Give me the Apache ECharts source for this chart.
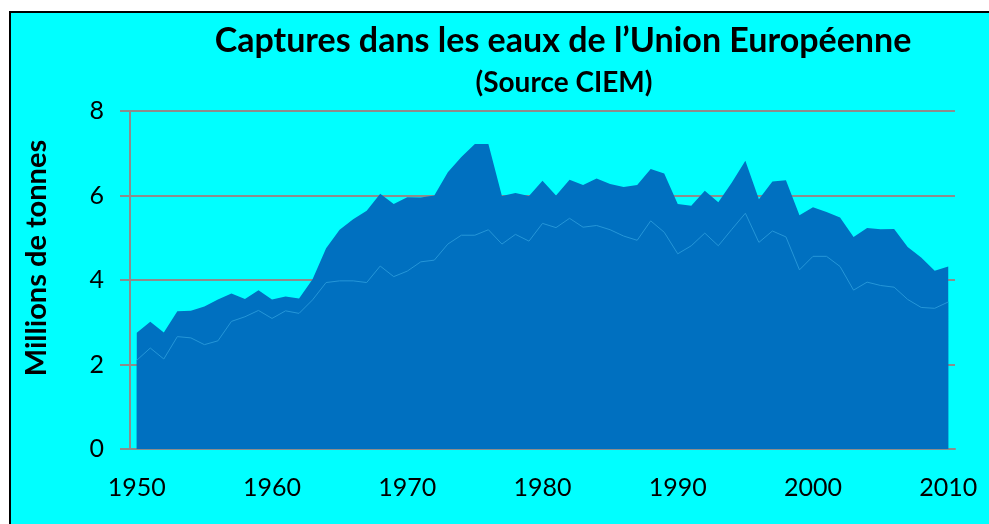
<!DOCTYPE html>
<html>
<head>
<meta charset="utf-8">
<script src="https://cdn.jsdelivr.net/npm/echarts@6/dist/echarts.min.js"></script>
<style>
  html, body { margin: 0; padding: 0; background: #fff; }
  #main { width: 989px; height: 524px; }
</style>
</head>
<body>
<div id="main"></div>
<script>
// années 1950 - 2010
var years = []
for (var y = 1950; y <= 2010; y++) years.push(String(y))

// captures totales (millions de tonnes)
var totalCaptures = [
  2.75, 3.01, 2.76, 3.26, 3.27, 3.37, 3.54, 3.68, 3.55, 3.76,
  3.54, 3.61, 3.56, 4.02, 4.75, 5.19, 5.44, 5.64, 6.04, 5.80,
  5.96, 5.95, 6.00, 6.55, 6.91, 7.22, 7.22, 5.99, 6.06, 5.99,
  6.35, 6.00, 6.37, 6.25, 6.40, 6.27, 6.20, 6.25, 6.63, 6.52,
  5.80, 5.76, 6.11, 5.84, 6.31, 6.82, 5.91, 6.33, 6.36, 5.53,
  5.72, 5.61, 5.48, 5.02, 5.23, 5.20, 5.21, 4.78, 4.53, 4.22,
  4.32
]

// part inférieure (ligne claire)
var partCaptures = [
  2.10, 2.39, 2.13, 2.66, 2.63, 2.47, 2.56, 3.02, 3.13, 3.28,
  3.09, 3.27, 3.21, 3.53, 3.94, 3.98, 3.98, 3.94, 4.33, 4.08,
  4.21, 4.43, 4.47, 4.85, 5.06, 5.06, 5.19, 4.85, 5.08, 4.92,
  5.34, 5.24, 5.46, 5.25, 5.29, 5.19, 5.04, 4.94, 5.40, 5.13,
  4.62, 4.81, 5.11, 4.81, 5.20, 5.58, 4.89, 5.16, 5.02, 4.24,
  4.56, 4.56, 4.32, 3.76, 3.95, 3.87, 3.83, 3.54, 3.35, 3.33,
  3.48
]

var font = 'Lato, "Noto Sans", sans-serif'
var gray = '#8c8c8c'
var fill = '#0070c0'

var chart = echarts.init(document.getElementById('main'))

var option = {
  animation: false,
  backgroundColor: '#00ffff',
  title: [
    {
      text: 'Captures dans les eaux de l’Union Européenne',
      left: 558,
      top: 19,
      textAlign: 'center',
      textStyle: { fontFamily: font, fontWeight: 'bold', fontSize: 34, color: '#000' }
    },
    {
      text: '(Source CIEM)',
      left: 559,
      top: 64,
      textAlign: 'center',
      textStyle: { fontFamily: font, fontWeight: 'bold', fontSize: 28, color: '#000' }
    }
  ],
  graphic: [
    // cadre : bande blanche + filet noir
    { type: 'rect', shape: { x: 0, y: 0, width: 989, height: 11 }, style: { fill: '#fff' }, silent: true },
    { type: 'rect', shape: { x: 0, y: 0, width: 9, height: 524 }, style: { fill: '#fff' }, silent: true },
    { type: 'line', shape: { x1: 9, y1: 12, x2: 989, y2: 12 }, style: { stroke: '#000', lineWidth: 2 }, silent: true },
    { type: 'line', shape: { x1: 10, y1: 11, x2: 10, y2: 524 }, style: { stroke: '#000', lineWidth: 2 }, silent: true },
    {
      type: 'text',
      x: 37,
      y: 258,
      rotation: Math.PI / 2,
      style: {
        text: 'Millions de tonnes',
        fontFamily: font,
        fontWeight: 'bold',
        fontSize: 29,
        fill: '#000',
        align: 'center',
        verticalAlign: 'middle'
      }
    }
  ],
  grid: {
    left: 130,
    top: 111,
    width: 825,
    height: 338,
    containLabel: false
  },
  xAxis: {
    type: 'category',
    data: years,
    boundaryGap: true,
    axisLine: { lineStyle: { color: gray, width: 2 } },
    axisTick: { interval: 9, length: 8, lineStyle: { color: gray, width: 2 } },
    axisLabel: {
      interval: 9,
      margin: 26,
      color: '#000',
      fontFamily: font,
      fontSize: 25
    },
    splitLine: { show: false }
  },
  yAxis: {
    type: 'value',
    min: 0,
    max: 8,
    interval: 2,
    axisLine: { show: true, lineStyle: { color: gray, width: 2 } },
    axisTick: { show: true, length: 10, lineStyle: { color: gray, width: 2 } },
    axisLabel: {
      margin: 26,
      color: '#000',
      fontFamily: font,
      fontSize: 25
    },
    splitLine: { lineStyle: { color: gray, width: 2 } }
  },
  series: [
    {
      name: 'Total',
      type: 'line',
      data: totalCaptures,
      symbol: 'none',
      lineStyle: { width: 0 },
      areaStyle: { color: fill, opacity: 1 }
    },
    {
      name: 'Part',
      type: 'line',
      data: partCaptures,
      symbol: 'none',
      lineStyle: { color: '#2596d8', width: 1 },
      areaStyle: { color: fill, opacity: 1 }
    }
  ]
}

chart.setOption(option)
</script>
</body>
</html>
